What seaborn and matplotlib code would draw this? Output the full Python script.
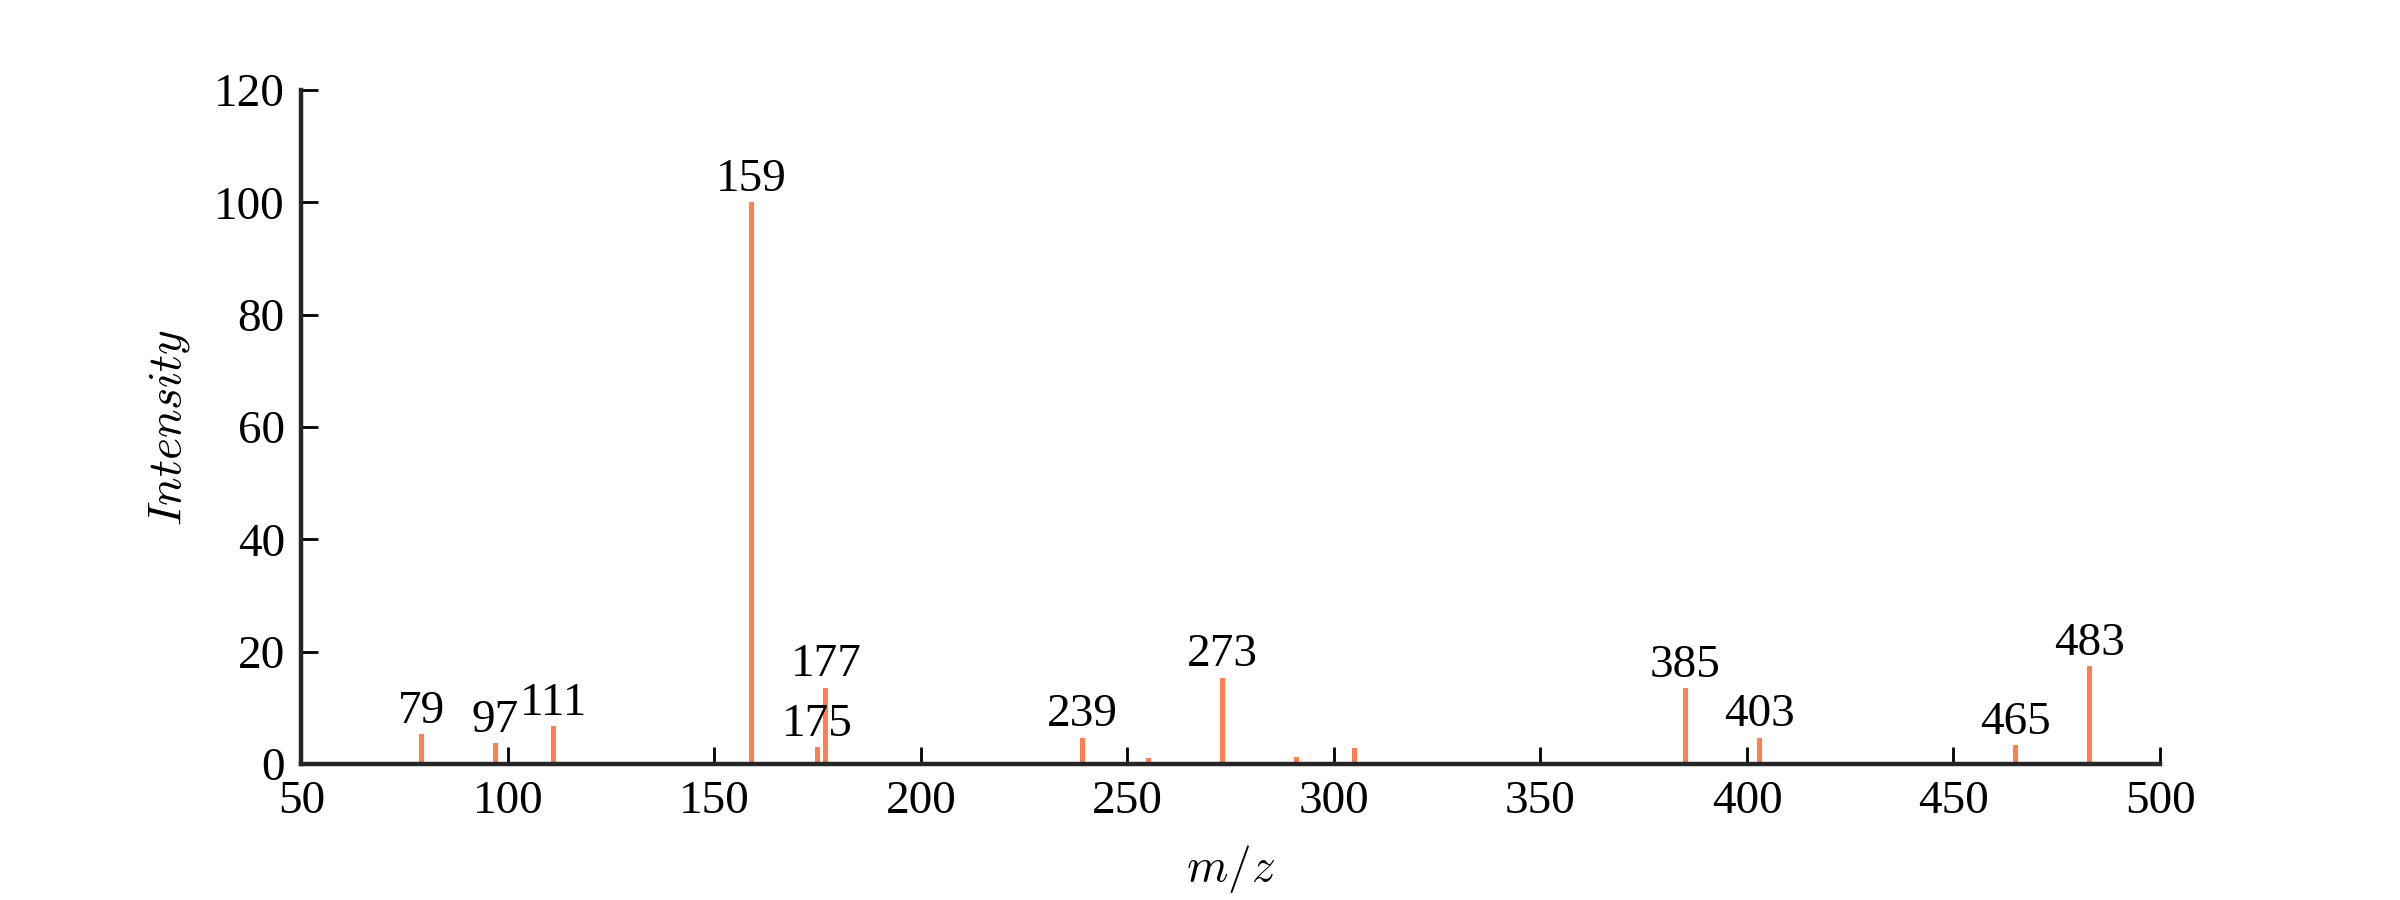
import matplotlib
matplotlib.use("Agg")
import matplotlib.pyplot as plt
import seaborn as sns
import pandas as pd

# picos del espectro (m/z, intensidad relativa)
mz = [79, 97, 111, 159, 175, 177, 239, 255, 273, 291, 305, 385, 403, 465, 483]
intensity = [5.3, 3.7, 6.8, 100, 3.0, 13.6, 4.7, 1.1, 15.4, 1.3, 2.9, 13.5, 4.7, 3.4, 17.4]
# picos con etiqueta
labeled = [79, 97, 111, 159, 175, 177, 239, 273, 385, 403, 465, 483]

df = pd.DataFrame({"mz": mz, "intensity": intensity})

sns.set_style("ticks")
plt.rcParams["font.family"] = ["Liberation Serif", "DejaVu Serif"]
plt.rcParams["mathtext.fontset"] = "cm"
plt.rcParams["font.size"] = 17
plt.rcParams["text.color"] = "black"
plt.rcParams["axes.labelcolor"] = "black"
plt.rcParams["xtick.color"] = "black"
plt.rcParams["ytick.color"] = "black"

fig = plt.figure(figsize=(12, 4.5), dpi=200)
ax = fig.add_axes([0.1256, 0.151, 0.7744, 0.749])

sns.barplot(data=df, x="mz", y="intensity", native_scale=True, width=0.6,
            color="#FF7F50", saturation=1, linewidth=0, ax=ax)

for m, v in zip(mz, intensity):
    if m in labeled:
        ax.text(m, v + 2, str(m), ha="center", va="baseline", fontsize=17, color="black")

ax.set_xlim(50, 500)
ax.set_ylim(0, 120)
ax.set_xticks(range(50, 501, 50))
ax.set_yticks(range(0, 121, 20))
ax.tick_params(direction="in", length=6, width=1.0, labelsize=17, pad=6)
for s in ["top", "right"]:
    ax.spines[s].set_visible(False)
for s in ["left", "bottom"]:
    ax.spines[s].set_linewidth(1.6)
    ax.spines[s].set_color("#262626")

ax.set_xlabel("$m/z$", fontsize=17, labelpad=7)
ax.set_ylabel("$Intensity$", fontsize=17, labelpad=8)

fig.savefig("out.png", dpi=200)
